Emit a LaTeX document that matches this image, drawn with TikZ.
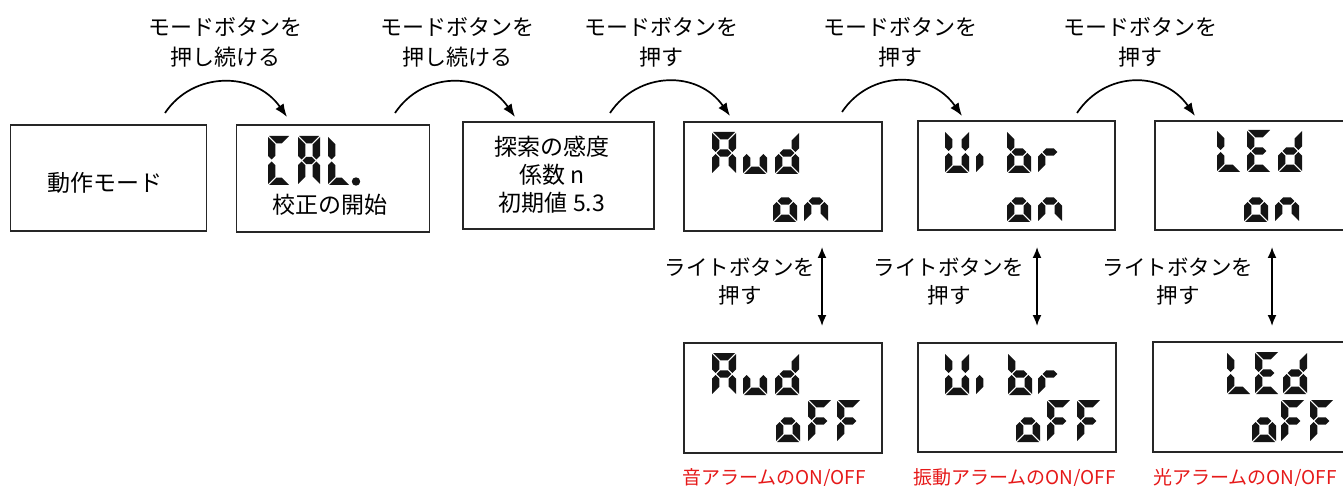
\documentclass[tikz,border=0pt]{standalone}
\usepackage{fontspec}
\setmainfont{Noto Sans CJK JP}
\usetikzlibrary{arrows.meta}
\definecolor{mred}{RGB}{230,25,25}
\definecolor{lcdink}{RGB}{20,20,20}
% LCD cell parameters (pt)
\def\lcdW{24}\def\lcdH{42}\def\lcdT{7.4}\def\lcdG{1.0}
\def\lcdsa{\fill[lcd] ({\lcdG},{\lcdH}) -- ({\lcdW-\lcdG},{\lcdH}) -- ({\lcdW-\lcdT-\lcdG},{\lcdH-\lcdT}) -- ({\lcdT+\lcdG},{\lcdH-\lcdT}) -- cycle;}
\def\lcdsd{\fill[lcd] ({\lcdG},0) -- ({\lcdW-\lcdG},0) -- ({\lcdW-\lcdT-\lcdG},{\lcdT}) -- ({\lcdT+\lcdG},{\lcdT}) -- cycle;}
\def\lcdsf{\fill[lcd] (0,{\lcdH-\lcdG}) -- ({\lcdT},{\lcdH-\lcdT-\lcdG}) -- ({\lcdT},{\lcdH/2+\lcdT/2+\lcdG}) -- ({\lcdT/2},{\lcdH/2+\lcdG}) -- (0,{\lcdH/2+\lcdT/2+\lcdG}) -- cycle;}
\def\lcdse{\fill[lcd] (0,{\lcdG}) -- ({\lcdT},{\lcdT+\lcdG}) -- ({\lcdT},{\lcdH/2-\lcdT/2-\lcdG}) -- ({\lcdT/2},{\lcdH/2-\lcdG}) -- (0,{\lcdH/2-\lcdT/2-\lcdG}) -- cycle;}
\def\lcdsb{\fill[lcd] ({\lcdW},{\lcdH-\lcdG}) -- ({\lcdW-\lcdT},{\lcdH-\lcdT-\lcdG}) -- ({\lcdW-\lcdT},{\lcdH/2+\lcdT/2+\lcdG}) -- ({\lcdW-\lcdT/2},{\lcdH/2+\lcdG}) -- ({\lcdW},{\lcdH/2+\lcdT/2+\lcdG}) -- cycle;}
\def\lcdsc{\fill[lcd] ({\lcdW},{\lcdG}) -- ({\lcdW-\lcdT},{\lcdT+\lcdG}) -- ({\lcdW-\lcdT},{\lcdH/2-\lcdT/2-\lcdG}) -- ({\lcdW-\lcdT/2},{\lcdH/2-\lcdG}) -- ({\lcdW},{\lcdH/2-\lcdT/2-\lcdG}) -- cycle;}
\def\lcdsg{\fill[lcd] ({\lcdT/2+\lcdG},{\lcdH/2}) -- ({\lcdT+\lcdG},{\lcdH/2+\lcdT/2}) -- ({\lcdW-\lcdT-\lcdG},{\lcdH/2+\lcdT/2}) -- ({\lcdW-\lcdT/2-\lcdG},{\lcdH/2}) -- ({\lcdW-\lcdT-\lcdG},{\lcdH/2-\lcdT/2}) -- ({\lcdT+\lcdG},{\lcdH/2-\lcdT/2}) -- cycle;}
% \lcdchar{x}{top y}{segment-list macro}
\newcommand\lcdchar[3]{%
  \begin{scope}[shift={(#1,{#2+\lcdH})},yscale=-1]
    \edef\lcdlist{#3}%
    \foreach \s in \lcdlist {\csname lcds\s\endcsname}
  \end{scope}}
\def\lkA{a,b,c,e,f,g}\def\lku{c,d,e}\def\lkd{b,c,d,e,g}\def\lko{c,d,e,g}
\def\lkn{c,e,g}\def\lkF{a,e,f,g}\def\lkC{a,d,e,f}\def\lkL{d,e,f}
\def\lkE{a,d,e,f,g}\def\lkU{b,c,d,e,f}\def\lki{e}\def\lkb{c,d,e,f,g}\def\lkr{e,g}
\begin{document}
\begin{tikzpicture}[x=1pt,y=-1pt,
  lcd/.style={fill=lcdink},
  box/.style={draw=black!85,line width=1.9pt,fill=white,inner sep=0pt},
  toplbl/.style={align=center,inner sep=0pt,font=\fontsize{22}{30}\selectfont},
  lightlbl/.style={align=center,inner sep=0pt,font=\fontsize{21.5}{28}\selectfont},
  boxtxt/.style={align=center,inner sep=0pt,font=\fontsize{23}{28}\selectfont},
  redlbl/.style={anchor=west,inner sep=0pt,text=mred,font=\fontsize{19}{22}\selectfont},
  arr/.style={line width=1.7pt,-{Latex[length=13pt,width=10pt]}},
  darr/.style={line width=1.7pt,{Latex[length=11pt,width=9pt]}-{Latex[length=11pt,width=9pt]}}]
\useasboundingbox (0,0) rectangle (1343,486);
\clip (0,0) rectangle (1343,486);
\fill[white] (0,0) rectangle (1343,486);

% boxes
\node[box,minimum width=196pt,minimum height=106pt] (b1) at (108.5,178) {};
\node[box,minimum width=193pt,minimum height=107pt] (b2) at (333,178.5) {};
\node[box,minimum width=191pt,minimum height=107pt] (b3) at (558.5,175.5) {};
\node[box,minimum width=198pt,minimum height=109pt] (b4) at (783,176.5) {};
\node[box,minimum width=197pt,minimum height=109pt] (b5) at (1016.5,175.5) {};
\node[box,minimum width=197pt,minimum height=109pt] (b6) at (1253.5,175.5) {};
\node[box,minimum width=198pt,minimum height=110pt] (b7) at (783,398) {};
\node[box,minimum width=198pt,minimum height=109pt] (b8) at (1017,397.5) {};
\node[box,minimum width=197pt,minimum height=110pt] (b9) at (1251.5,397) {};

% box texts
\node[boxtxt] (t1) at (105,183) {動作モード};
\node[boxtxt] (t2) at (330,205) {校正の開始};
\node[boxtxt] (t3) at (552,175) {探索の感度\\係数 n\\初期値 5.3};

% LCD: CAL.
\begingroup
\def\lcdW{22}\def\lcdH{49}
\lcdchar{268}{136}{\lkC}
\lcdchar{298}{136}{\lkA}
\lcdchar{328}{136}{\lkL}
\fill[lcd] (356,181.5) circle (4.2);
\endgroup

% Aud on
\lcdchar{712}{132}{\lkA}\lcdchar{743}{132}{\lku}\lcdchar{775}{132}{\lkd}
\lcdchar{773}{180}{\lko}\lcdchar{804}{180}{\lkn}
% Vibr on
\lcdchar{945}{131}{\lkU}\lcdchar{976}{131}{\lki}\lcdchar{1007}{131}{\lkb}\lcdchar{1038}{131}{\lkr}
\lcdchar{1007}{180}{\lko}\lcdchar{1038}{180}{\lkn}
% LEd on
\lcdchar{1217}{130}{\lkL}\lcdchar{1247}{130}{\lkE}\lcdchar{1278}{130}{\lkd}
\lcdchar{1244}{180}{\lko}\lcdchar{1275}{180}{\lkn}
% Aud off
\lcdchar{712}{353}{\lkA}\lcdchar{743}{353}{\lku}\lcdchar{775}{353}{\lkd}
\lcdchar{776}{400}{\lko}\lcdchar{808}{400}{\lkF}\lcdchar{837}{400}{\lkF}
% Vibr off
\lcdchar{945}{353}{\lkU}\lcdchar{976}{353}{\lki}\lcdchar{1008}{353}{\lkb}\lcdchar{1038}{353}{\lkr}
\lcdchar{1016}{400}{\lko}\lcdchar{1047}{400}{\lkF}\lcdchar{1077}{400}{\lkF}
% LEd off
\lcdchar{1227}{352}{\lkL}\lcdchar{1255}{352}{\lkE}\lcdchar{1283}{352}{\lkd}
\lcdchar{1252}{400}{\lko}\lcdchar{1281}{400}{\lkF}\lcdchar{1310}{400}{\lkF}

% top labels
\node[toplbl] (l1) at (225,42) {モードボタンを\\押し続ける};
\node[toplbl] (l2) at (457,42) {モードボタンを\\押し続ける};
\node[toplbl] (l3) at (661,42) {モードボタンを\\押す};
\node[toplbl] (l4) at (900,42) {モードボタンを\\押す};
\node[toplbl] (l5) at (1140,42) {モードボタンを\\押す};

% curved arrow ends
\coordinate (s1) at (165,113); \coordinate (e1) at (287,117);
\coordinate (s2) at (395,113); \coordinate (e2) at (515,117);
\coordinate (s3) at (610,113); \coordinate (e3) at (730,116);
\coordinate (s4) at (842,112); \coordinate (e4) at (962,116);
\coordinate (s5) at (1077,113); \coordinate (e5) at (1195,116);
\foreach \i in {1,...,5}{
  \draw[arr] (s\i) .. controls +(28,-42) and +(-32,-46) .. (e\i);
}

% light button labels and double arrows
\node[lightlbl] (r1) at (740,282) {ライトボタンを\\押す};
\node[lightlbl] (r2) at (949,282) {ライトボタンを\\押す};
\node[lightlbl] (r3) at (1178,282) {ライトボタンを\\押す};
\coordinate (v1t) at (822,247); \coordinate (v1b) at (822,326);
\coordinate (v2t) at (1037,247); \coordinate (v2b) at (1037,326);
\coordinate (v3t) at (1272,247); \coordinate (v3b) at (1272,326);
\draw[darr] (v1t) -- (v1b);
\draw[darr] (v2t) -- (v2b);
\draw[darr] (v3t) -- (v3b);

% red captions
\node[redlbl] (c1) at (682,478) {音アラームのON/OFF};
\node[redlbl] (c2) at (913,478) {振動アラームのON/OFF};
\node[redlbl] (c3) at (1153,478) {光アラームのON/OFF};
\end{tikzpicture}
\end{document}
